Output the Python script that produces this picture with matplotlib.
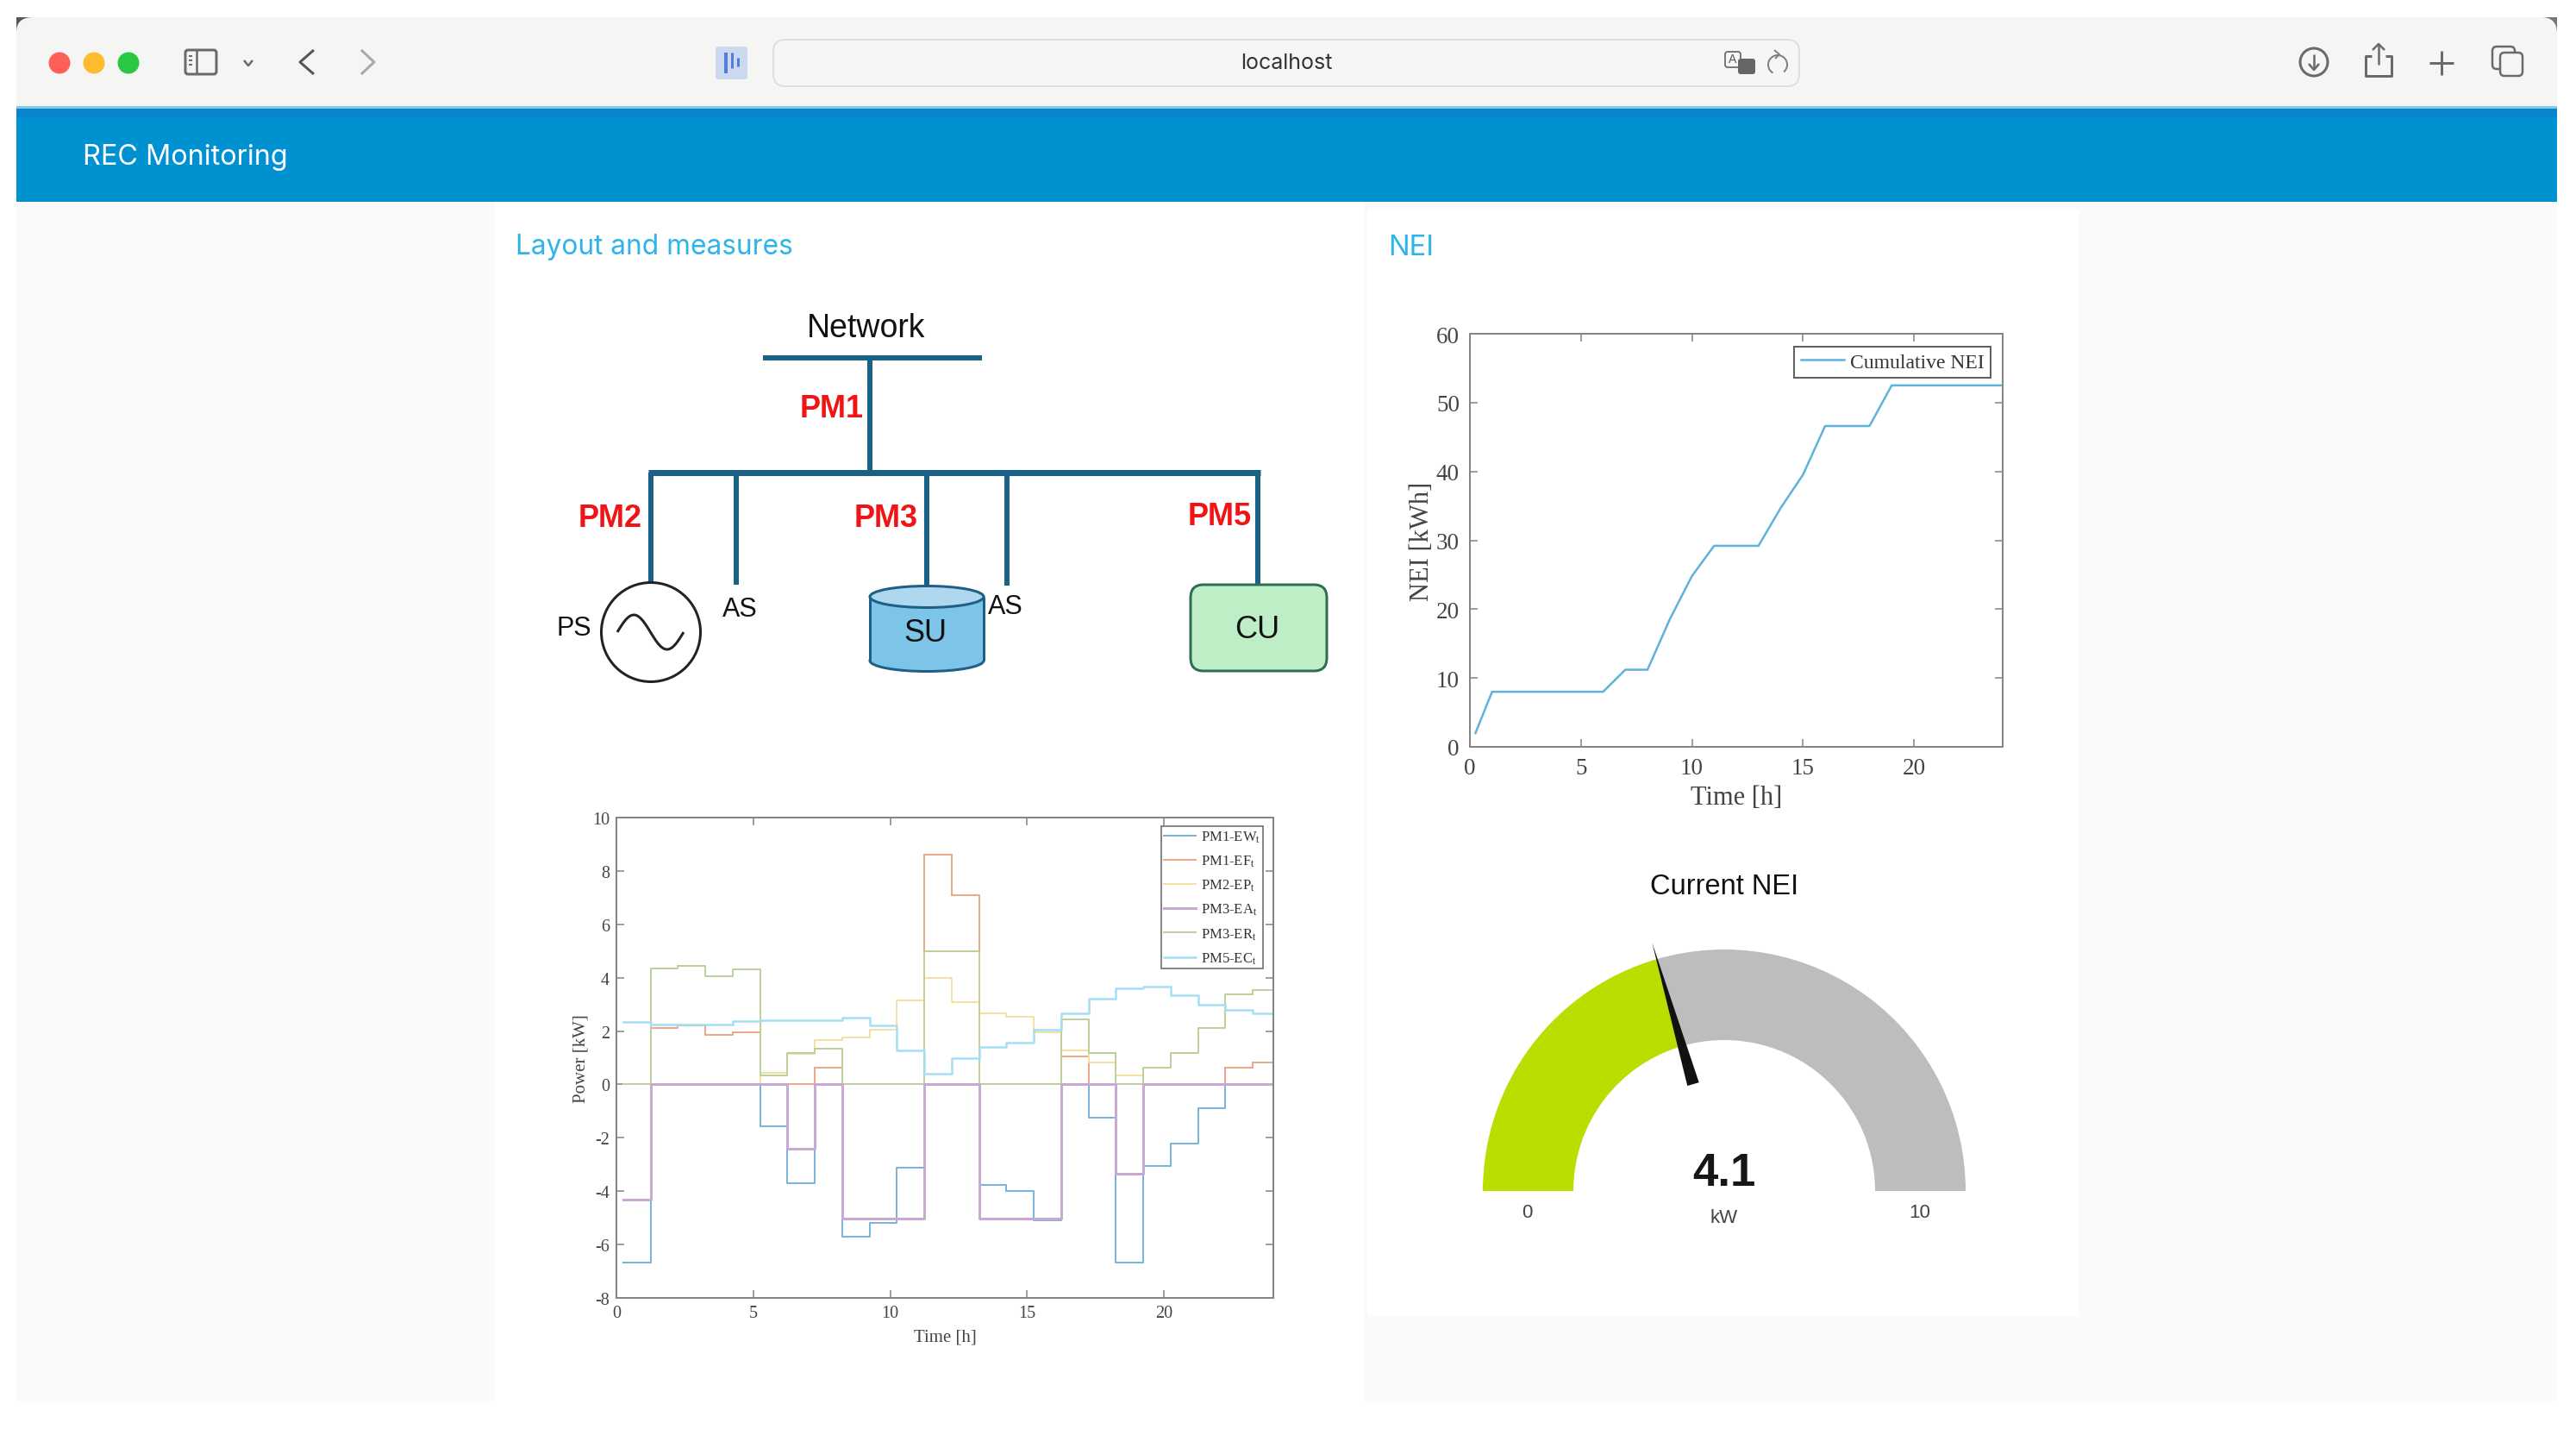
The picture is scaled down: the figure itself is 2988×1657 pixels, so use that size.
import numpy as np
import matplotlib
matplotlib.use("Agg")
import matplotlib.pyplot as plt
from matplotlib.patches import Rectangle, Circle, Ellipse, FancyBboxPatch, Wedge, Polygon, PathPatch
from matplotlib.path import Path

W, H = 2988, 1658
DPI = 100

plt.rcParams['mathtext.fontset'] = 'custom'
plt.rcParams['mathtext.rm'] = 'Liberation Serif'
plt.rcParams['mathtext.it'] = 'Liberation Serif'
plt.rcParams['axes.unicode_minus'] = False

#hourly power readings, one value per interval starting at 0.25 h
hours = np.arange(0.25, 25.25)
pm1_ew = [-6.67, 2.1, 2.2, 1.85, 1.95, -1.57, -3.7, 0.63, -5.72, -5.2, -3.13, 8.6,
          7.1, -3.77, -4.0, -5.1, 1.05, -1.25, -6.67, -3.05, -2.22, -0.9, 0.63, 0.83]
pm1_ef = [0, 2.1, 2.2, 1.85, 1.95, 0, 0, 0.63, 0, 0, 0, 8.6,
          7.1, 0, 0, 0, 1.05, 0, 0, 0, 0, 0, 0.63, 0.83]
pm2_ep = [0, 0, 0, 0, 0, 0.45, 1.15, 1.65, 1.75, 2.05, 3.15, 4.0,
          3.08, 2.65, 2.52, 1.95, 1.28, 0.82, 0.33, 0, 0, 0, 0, 0]
pm3_ea = [-4.3, 0, 0, 0, 0, 0, -2.42, 0, -5.03, -5.03, -5.03, 0,
          0, -5.03, -5.03, -5.03, 0, 0, -3.35, 0, 0, 0, 0, 0]
pm3_er = [0, 4.35, 4.43, 4.07, 4.32, 0.35, 1.17, 1.35, 0, 0, 0, 5.0,
          5.0, 0, 0, 0, 2.45, 1.17, 0, 0.62, 1.17, 2.12, 3.37, 3.55]
pm5_ec = [2.35, 2.25, 2.25, 2.25, 2.38, 2.4, 2.42, 2.42, 2.5, 2.22, 1.28, 0.4,
          1.0, 1.4, 1.58, 2.05, 2.65, 3.2, 3.6, 3.68, 3.35, 3.0, 2.78, 2.68]
power_labels = ['PM1-EW$_{\\mathrm{t}}$', 'PM1-EF$_{\\mathrm{t}}$', 'PM2-EP$_{\\mathrm{t}}$',
                'PM3-EA$_{\\mathrm{t}}$', 'PM3-ER$_{\\mathrm{t}}$', 'PM5-EC$_{\\mathrm{t}}$']
power_colors = ['#7ab4d8', '#eba98a', '#f6dfa4', '#c9a8d2', '#bcd29a', '#a5dff5']
#purple goes over green on the zero line, legend keeps the order above
draw_order = [0, 1, 2, 4, 3, 5]
line_px = [2, 2, 2, 3, 2, 2.5]

nei_time = [0.25, 1, 6, 7, 8, 9, 10, 11, 13, 14, 15, 16, 18, 19, 24]
nei_value = [2, 8, 8, 11.2, 11.2, 18.5, 24.8, 29.2, 29.2, 34.7, 39.5, 46.6, 46.6, 52.5, 52.5]

gauge_value = 4.1
gauge_max = 10

fig = plt.figure(figsize=(W / DPI, H / DPI), dpi=DPI, facecolor='white')

#whole page axes in pixel coordinates for the browser window and the diagram
bg = fig.add_axes([0, 0, 1, 1])
bg.set_xlim(0, W)
bg.set_ylim(H - 2, -2)
bg.axis('off')


def px(width):
    return width * 72 / DPI


def rect(x0, y0, x1, y1, color, z=1):
    bg.add_patch(Rectangle((x0, y0), x1 - x0, y1 - y0, facecolor=color, edgecolor='none', zorder=z))


def line(xs, ys, color, width, z=3):
    bg.plot(xs, ys, color=color, lw=px(width), zorder=z, solid_capstyle='butt', solid_joinstyle='round')


def label(x, y, s, size, color='#111111', family='Liberation Sans', weight='normal', ha='center'):
    bg.text(x, y, s, fontsize=size, color=color, family=family, weight=weight, ha=ha, va='center', zorder=6)


def chart_axes(left, top, right, bottom):
    return fig.add_axes([left / W, 1 - bottom / H, (right - left) / W, (bottom - top) / H])


#page background
rect(19, 19, 2966, 1624, '#fafafa')
rect(19, 19, 2966, 124, '#f5f5f4')
rect(19, 124, 2966, 233, '#0091d0')
rect(19, 124, 2966, 135, '#0a84cc', z=2)
rect(19, 122, 2966, 125, '#7fcbe8', z=2)
rect(574, 233, 1582, 1624, 'white')
rect(1586, 242, 2411, 1525, 'white')

#window corners
bg.add_patch(PathPatch(Path([(19, 19), (38, 19), (19, 19), (19, 36)],
                            [Path.MOVETO, Path.LINETO, Path.CURVE3, Path.CURVE3]),
                       facecolor='#555555', edgecolor='none', zorder=4))
bg.add_patch(PathPatch(Path([(2966, 19), (2948, 19), (2966, 19), (2966, 38)],
                            [Path.MOVETO, Path.LINETO, Path.CURVE3, Path.CURVE3]),
                       facecolor='#777777', edgecolor='none', zorder=4))

#traffic lights
for cx, col in zip([69, 109, 149], ['#fe5f57', '#febb2e', '#28c840']):
    bg.add_patch(Circle((cx, 72), 12.5, facecolor=col, edgecolor='none', zorder=3))

#toolbar icons
icon = '#6a6a6a'
bg.add_patch(FancyBboxPatch((215, 57), 36, 28, boxstyle='round,pad=0,rounding_size=3', facecolor='none',
                            edgecolor=icon, lw=px(3), zorder=3))
line([228, 228], [57, 85], icon, 2.5)
for yy in [64, 69, 74]:
    line([219, 223], [yy, yy], icon, 2)
line([283, 288, 293], [69, 75, 69], icon, 2.5)
line([364, 348, 364], [57, 71, 85], '#555555', 3)
line([419, 434, 419], [57, 71, 85], '#a8a8a8', 3)

bg.add_patch(FancyBboxPatch((830, 53), 37, 38, boxstyle='round,pad=0,rounding_size=3', facecolor='#ccd8f0',
                            edgecolor='none', zorder=3))
line([842, 842], [60, 84], '#4f7fd8', 4)
line([849, 849], [60, 78], '#4f7fd8', 3)
line([856, 856], [66, 76], '#4f7fd8', 3)

bg.add_patch(FancyBboxPatch((897, 45), 1190, 54, boxstyle='round,pad=0,rounding_size=14', facecolor='#f6f6f5',
                            edgecolor='#dedede', lw=px(2), zorder=2))
label(1492, 72, 'localhost', 18, color='#333333', family='Inter')

bg.add_patch(FancyBboxPatch((2001, 59), 18, 18, boxstyle='round,pad=0,rounding_size=3', facecolor='#f6f6f5',
                            edgecolor='#7a7a7a', lw=px(2), zorder=3))
bg.add_patch(FancyBboxPatch((2016, 67), 20, 18, boxstyle='round,pad=0,rounding_size=3', facecolor='#666666',
                            edgecolor='none', zorder=4))
label(2010, 67, 'A', 10, color='#555555')
arc_t = np.radians(np.linspace(-50, 240, 40))
line(2062 + 11 * np.cos(arc_t), 74 - 11 * np.sin(arc_t), '#808080', 2)
line([2058, 2064, 2059], [57, 62, 67], '#808080', 2)

bg.add_patch(Circle((2684, 71), 16, facecolor='none', edgecolor=icon, lw=px(3), zorder=3))
line([2684, 2684], [62, 79], icon, 2.5)
line([2678, 2684, 2690], [73, 80, 73], icon, 2.5)
line([2751, 2744, 2744, 2774, 2774, 2767], [64, 64, 87, 87, 64, 64], icon, 3)
line([2759, 2759], [50, 74], icon, 2.5)
line([2752, 2759, 2766], [57, 50, 57], icon, 2.5)
line([2818, 2846], [72, 72], icon, 3)
line([2832, 2832], [58, 86], icon, 3)
bg.add_patch(FancyBboxPatch((2891, 53), 26, 26, boxstyle='round,pad=0,rounding_size=5', facecolor='none',
                            edgecolor=icon, lw=px(2.5), zorder=3))
bg.add_patch(FancyBboxPatch((2900, 60), 26, 27, boxstyle='round,pad=0,rounding_size=5', facecolor='#f5f5f4',
                            edgecolor=icon, lw=px(2.5), zorder=4))

#titles
label(96, 180, 'REC Monitoring', 23.3, color='white', family='Inter', ha='left')
label(598, 285, 'Layout and measures', 22.8, color='#2db5ea', family='Inter', ha='left')
label(1610, 285, 'NEI', 23.5, color='#2db5ea', family='Inter', ha='left')

#network diagram
bus = '#1a6285'
line([885, 1139], [414, 414], bus, 6)
line([1009, 1009], [414, 547], bus, 6)
line([752, 1462], [547, 547], bus, 7)
for xx, y_end in zip([755, 853.5, 1075, 1168, 1459], [675, 677, 678, 678, 678]):
    line([xx, xx], [547, y_end], bus, 6)

bg.add_patch(Circle((755, 732), 57.5, facecolor='white', edgecolor='#222222', lw=px(3), zorder=3))
sine_t = np.linspace(0, 2 * np.pi, 60)
line(716 + 77 * sine_t / (2 * np.pi), 732 - 20 * np.sin(sine_t), '#222222', 3, z=4)

su_edge = '#1f5f85'
bg.add_patch(Ellipse((1075, 765), 132, 25, facecolor='#7cc4e8', edgecolor=su_edge, lw=px(3), zorder=3))
rect(1010, 691, 1140, 765, '#7cc4e8', z=3)
line([1009, 1009], [691, 765], su_edge, 3, z=4)
line([1141, 1141], [691, 765], su_edge, 3, z=4)
bg.add_patch(Ellipse((1075, 691), 132, 25, facecolor='#aed8f0', edgecolor=su_edge, lw=px(3), zorder=4))

bg.add_patch(FancyBboxPatch((1381, 677), 158, 100, boxstyle='round,pad=0,rounding_size=15', facecolor='#bdeec5',
                            edgecolor='#2f6b55', lw=px(3), zorder=3))

label(666, 727, 'PS', 22)
label(858, 705, 'AS', 22)
label(1073, 733, 'SU', 26)
label(1166, 702, 'AS', 22)
label(1458, 729, 'CU', 26)
label(1005, 379, 'Network', 27)
for xx, yy, name in zip([965, 708, 1028, 1415], [473, 600, 600, 598], ['PM1', 'PM2', 'PM3', 'PM5']):
    label(xx, yy, name, 26, color='#f01414', weight='bold')

#gauge
gx, gy = 2000, 1380
r_out, r_in = 280, 175
needle_deg = 180 + 180 * gauge_value / gauge_max
bg.add_patch(Wedge((gx, gy), r_out, 180, needle_deg, width=r_out - r_in, facecolor='#bcdd00', edgecolor='none', zorder=3))
bg.add_patch(Wedge((gx, gy), r_out, needle_deg, 360, width=r_out - r_in, facecolor='#bdbdbd', edgecolor='none', zorder=3))
ux, uy = np.cos(np.radians(needle_deg)), np.sin(np.radians(needle_deg))
bg.add_patch(Polygon([(gx + 300 * ux, gy + 300 * uy),
                      (gx + 129 * ux - 7 * uy, gy + 129 * uy + 7 * ux),
                      (gx + 129 * ux + 7 * uy, gy + 129 * uy - 7 * ux)],
                     facecolor='#111111', edgecolor='none', zorder=4))
label(2000, 1027, 'Current NEI', 23.5)
label(2000, 1359, str(gauge_value), 38, color='#161616', weight='bold')
label(1771, 1405, '0', 16, color='#444444')
label(2227, 1405, str(gauge_max), 16, color='#444444')
label(2000, 1411, 'kW', 16, color='#444444')


def style_axes(ax, tick_size, pad, xticks, yticks):
    for sp in ax.spines.values():
        sp.set_color('#858585')
        sp.set_linewidth(px(2))
    ax.set_xticks(xticks)
    ax.set_yticks(yticks)
    ax.tick_params(direction='in', top=True, right=True, length=px(9), width=px(1.5), color='#808080',
                   labelsize=tick_size, labelcolor='#444444', pad=px(pad))
    for lab in ax.get_xticklabels() + ax.get_yticklabels():
        lab.set_family('Liberation Serif')
    ax.set_facecolor('white')


#power chart
ax1 = chart_axes(715, 949, 1477, 1506)
power_series = [pm1_ew, pm1_ef, pm2_ep, pm3_ea, pm3_er, pm5_ec]
power_lines = {}
for i in draw_order:
    vals = power_series[i]
    power_lines[i], = ax1.step(hours, vals + [vals[-1]], where='post', color=power_colors[i],
                               lw=px(line_px[i]), label=power_labels[i])
ax1.set_xlim(0, 24)
ax1.set_ylim(-8, 10)
style_axes(ax1, 14.5, 8, [0, 5, 10, 15, 20], list(range(-8, 11, 2)))
ax1.set_xlabel('Time [h]', family='Liberation Serif', fontsize=15, color='#444444', va='center')
ax1.set_ylabel('Power [kW]', family='Liberation Serif', fontsize=15, color='#444444', va='center')
ax1.xaxis.set_label_coords(0.5, -0.081)
ax1.yaxis.set_label_coords(-0.054, 0.5)
leg1 = ax1.legend([power_lines[i] for i in range(6)], power_labels, loc='upper right',
                  bbox_to_anchor=(0.9843, 0.9820), borderaxespad=0, fancybox=False, framealpha=1,
                  prop={'family': 'Liberation Serif', 'size': 12}, labelspacing=0.65, handlelength=2.2,
                  handletextpad=0.35, borderpad=0.2, labelcolor='#333333')
leg1.get_frame().set_edgecolor('#606060')
leg1.get_frame().set_linewidth(px(1.5))

#cumulative NEI chart
ax2 = chart_axes(1705, 388, 2323, 867)
ax2.plot(nei_time, nei_value, color='#5fb2da', lw=px(2.5), label='Cumulative NEI')
ax2.set_xlim(0, 24)
ax2.set_ylim(0, 60)
style_axes(ax2, 19.5, 12, [0, 5, 10, 15, 20], list(range(0, 61, 10)))
ax2.set_xlabel('Time [h]', family='Liberation Serif', fontsize=22, color='#444444', va='center')
ax2.set_ylabel('NEI [kWh]', family='Liberation Serif', fontsize=22, color='#444444', va='center')
ax2.xaxis.set_label_coords(0.5, -0.122)
ax2.yaxis.set_label_coords(-0.09, 0.5)
leg2 = ax2.legend(loc='upper right', bbox_to_anchor=(0.9773, 0.9696), borderaxespad=0, fancybox=False, framealpha=1,
                  prop={'family': 'Liberation Serif', 'size': 17}, handlelength=2.1, handletextpad=0.3,
                  borderpad=0.32, labelcolor='#333333')
leg2.get_frame().set_edgecolor('#606060')
leg2.get_frame().set_linewidth(px(2))

fig.savefig('out.png', dpi=DPI, facecolor='white')
